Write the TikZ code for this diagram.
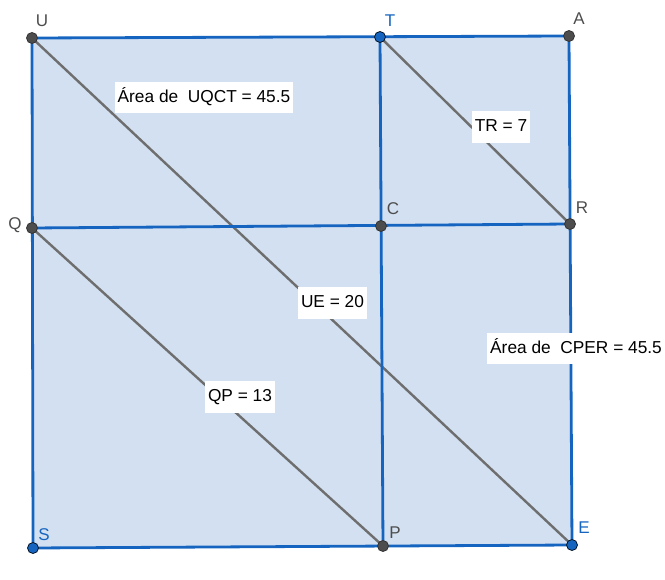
\documentclass[tikz,border=0pt]{standalone}
\usepackage{fontspec}
\setmainfont{Liberation Sans}
\definecolor{gblue}{RGB}{21,101,192}
\definecolor{gfill}{RGB}{210,224,241}
\definecolor{ggray}{RGB}{110,110,110}
\definecolor{gpt}{RGB}{77,77,77}
\tikzset{
  blueline/.style={draw=gblue,line width=2.8pt},
  grayline/.style={draw=ggray,line width=2.4pt},
  grayptdot/.style={circle,fill=gpt,draw=black!80,line width=0.8pt,inner sep=0pt,minimum size=11pt},
  blueptdot/.style={circle,fill=gblue,draw=black!80!gblue,line width=0.8pt,inner sep=0pt,minimum size=11pt},
  graylbl/.style={text=gpt,font=\fontsize{17}{19}\selectfont},
  bluelbl/.style={text=gblue,font=\fontsize{17}{19}\selectfont},
  valbox/.style={fill=white,inner xsep=3pt,inner ysep=8pt,text height=12.5pt,text depth=3pt,font=\fontsize{17.3}{19}\selectfont}
}
\begin{document}
\begin{tikzpicture}[x=1pt,y=-1pt]
\useasboundingbox (0,0) rectangle (665,580);
\coordinate (U) at (32,38);
\coordinate (T) at (380,37);
\coordinate (A) at (569,36);
\coordinate (Q) at (32,228);
\coordinate (C) at (381,226);
\coordinate (R) at (570,224);
\coordinate (S) at (33,548);
\coordinate (P) at (383,546);
\coordinate (E) at (572,545);
\fill[gfill] (U) -- (A) -- (E) -- (S) -- cycle;
\draw[grayline] (U) -- (E);
\draw[grayline] (T) -- (R);
\draw[grayline] (Q) -- (P);
\draw[blueline] (U) -- (A);
\draw[blueline] (U) -- (S);
\draw[blueline] (A) -- (E);
\draw[blueline] (S) -- (E);
\draw[blueline] (T) -- (P);
\draw[blueline] (Q) -- (R);
\node[valbox] (lab1) at (204,97.5) {Área de\ \ UQCT = 45.5};
\node[valbox] (lab2) at (501,127) {TR = 7};
\node[valbox] (lab3) at (332.5,303) {UE = 20};
\node[valbox,anchor=west] (lab4) at (487,348.5) {Área de\ \ CPER = 45.5};
\node[valbox] (lab5) at (240,397) {QP = 13};
\node[grayptdot] (pU) at (U) {};
\node[blueptdot] (pT) at (T) {};
\node[grayptdot] (pA) at (A) {};
\node[grayptdot] (pQ) at (Q) {};
\node[grayptdot] (pC) at (C) {};
\node[grayptdot] (pR) at (R) {};
\node[blueptdot] (pS) at (S) {};
\node[grayptdot] (pP) at (P) {};
\node[blueptdot] (pE) at (E) {};
\node[graylbl] (tU) at (42,21) {U};
\node[bluelbl] (tT) at (390,21) {T};
\node[graylbl] (tA) at (579,19) {A};
\node[graylbl] (tQ) at (15,225) {Q};
\node[graylbl] (tC) at (393,209) {C};
\node[graylbl] (tR) at (582,208) {R};
\node[bluelbl] (tS) at (44,535) {S};
\node[graylbl] (tP) at (395,533) {P};
\node[bluelbl] (tE) at (584,528) {E};
\end{tikzpicture}
\end{document}
